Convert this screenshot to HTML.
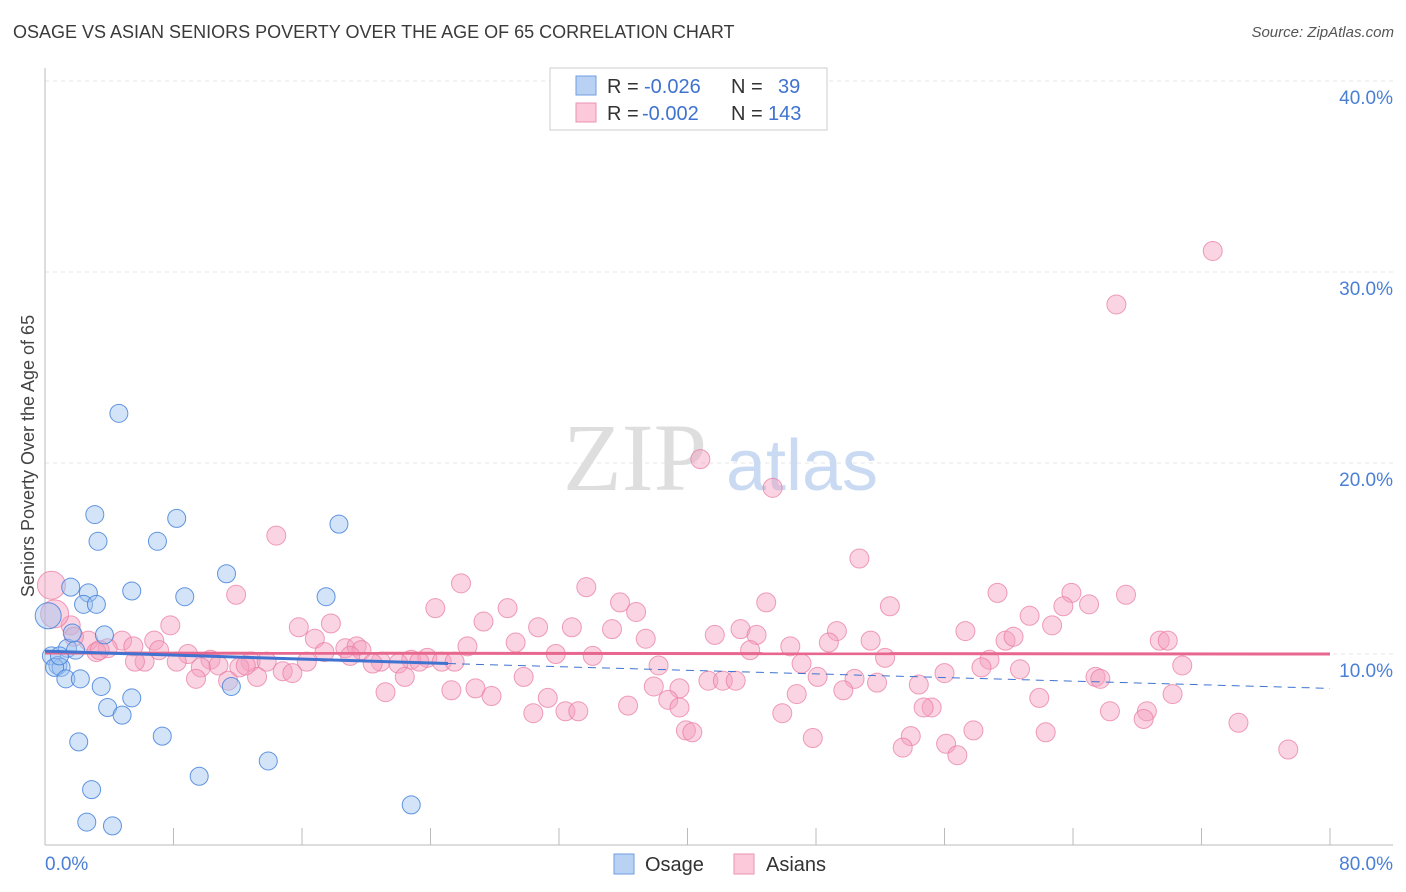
<!DOCTYPE html>
<html><head><meta charset="utf-8"><style>
body{margin:0;background:#fff;font-family:"Liberation Sans",sans-serif;}
#wrap{position:relative;width:1406px;height:892px;overflow:hidden;}
.t{position:absolute;white-space:nowrap;}
</style></head><body>
<div id="wrap">
<div class="t" style="left:13px;top:22px;font-size:18px;color:#3a3a3a;">OSAGE VS ASIAN SENIORS POVERTY OVER THE AGE OF 65 CORRELATION CHART</div>
<div class="t" style="right:12px;top:24px;font-size:15px;color:#555;font-style:italic;">Source: ZipAtlas.com</div>
<svg id="svg" width="1406" height="892" style="position:absolute;left:0;top:0"></svg>
</div>
<script>
const yTicks=[10,20,30,40];
const xTickLabels=["0.0%","80.0%"];
const osageX=[4.6,3.1,8.2,18.3,3.3,7.0,11.3,1.6,2.7,5.4,8.7,17.5,2.4,3.2,0.2,0.4,0.8,1.0,0.6,1.3,2.2,3.5,11.6,5.4,3.9,4.8,2.1,7.3,9.6,13.9,2.9,2.6,4.2,22.8,1.4,1.9,0.9,3.7,1.7];
const osageY=[22.6,17.3,17.1,16.8,15.9,15.9,14.2,13.5,13.2,13.3,13.0,13.0,12.6,12.6,12.0,9.9,9.4,9.3,9.3,8.7,8.7,8.3,8.3,7.7,7.2,6.8,5.4,5.7,3.6,4.4,2.9,1.2,1.0,2.1,10.3,10.2,9.9,11.0,11.1];
const asianX=[72.7,66.7,40.8,45.3,14.4,50.7,25.9,33.7,11.9,59.3,63.9,67.3,44.9,52.6,63.4,65.0,24.3,28.8,35.8,36.8,
27.3,61.3,62.7,15.8,17.8,7.8,30.7,32.8,35.3,57.3,69.4,69.9,41.7,43.3,44.3,49.3,51.4,59.8,60.3,37.4,
26.3,29.3,46.4,48.8,16.8,6.8,4.8,2.7,1.6,0.6,0.4,3.9,1.8,3.2,5.5,7.1,8.9,10.3,12.8,13.8,
18.7,19.4,19.7,17.4,22.8,23.8,24.7,20.9,20.4,22.0,14.8,15.4,16.3,12.1,10.8,9.7,8.2,6.2,5.6,9.4,
13.2,11.4,22.4,23.3,31.8,34.1,38.2,43.9,47.1,48.1,50.4,51.8,52.3,56.0,58.8,58.3,60.7,65.4,65.7,70.8,
29.8,41.3,42.2,43.0,39.5,37.9,21.2,25.3,26.8,27.8,31.3,46.8,49.7,54.4,55.2,54.7,61.9,70.2,36.3,38.8,
39.5,30.4,32.4,33.2,45.9,66.3,68.6,68.4,74.3,39.9,40.3,57.8,62.3,47.8,53.9,53.4,56.1,56.8,77.4,
3.4,12.5,19.0,25.5];
const asianY=[31.1,28.3,20.2,18.7,16.2,15.0,13.7,13.5,13.1,13.2,13.2,13.1,12.7,12.5,12.5,12.6,12.4,12.4,12.7,12.2,
11.7,12.0,11.5,11.4,11.6,11.5,11.4,11.4,11.3,11.2,10.7,10.7,11.0,11.3,11.0,11.2,10.7,10.7,10.9,10.8,
10.4,10.6,10.4,10.6,10.8,10.7,10.7,10.7,11.5,12.1,13.6,10.3,10.9,10.1,10.4,10.2,10.0,9.7,9.6,9.6,
10.3,10.4,10.2,10.1,9.7,9.8,9.6,9.6,9.5,9.5,9.1,9.0,9.6,9.3,9.4,9.3,9.6,9.6,9.6,8.7,
8.8,8.6,8.8,9.6,10.0,9.9,9.4,10.2,9.5,8.8,8.7,8.5,9.8,9.0,9.7,9.3,9.2,8.8,8.7,9.4,
8.8,8.6,8.6,8.6,8.2,8.3,8.0,8.1,8.2,7.8,7.7,7.9,8.1,8.4,7.2,7.2,7.7,7.9,7.3,7.6,
7.2,6.9,7.0,7.0,6.9,7.0,7.0,6.6,6.4,6.0,5.9,6.0,5.9,5.6,5.7,5.1,5.3,4.7,5.0,
10.2,9.4,9.9,9.6];
</script>
<script>
const NS="http://www.w3.org/2000/svg",svg=document.getElementById('svg');
const X0=45,X1=1330,Y0=845,PY=19.1;
function xs(v){return X0+v*(X1-X0)/80;}
function ys(v){return Y0-v*PY;}
function mk(tag,a,p){const e=document.createElementNS(NS,tag);for(const k in a)e.setAttribute(k,a[k]);(p||svg).appendChild(e);return e;}
yTicks.forEach(t=>{const l=mk('line',{x1:X0,x2:1393,y1:ys(t),y2:ys(t),stroke:'#e4e4e4','stroke-dasharray':'4,4'});


const tx=mk('text',{x:1393,y:ys(t)+23,'text-anchor':'end','font-size':19,fill:'#4a7fd6','font-family':'Liberation Sans'});tx.textContent=t.toFixed(1)+'%';

});
mk('line',{x1:X0,x2:X0,y1:68,y2:Y0,stroke:'#bbb'});
mk('line',{x1:X0,x2:1393,y1:Y0,y2:Y0,stroke:'#bbb'});
for(let i=1;i<=10;i++){const x=X0+i*(X1-X0)/10;mk('line',{x1:x,x2:x,y1:828,y2:Y0,stroke:'#bbb'});}
const w1=mk('text',{x:635,y:490,'text-anchor':'middle','font-size':96,fill:'#dedede','font-family':'Liberation Serif'});w1.textContent='ZIP';


const w2=mk('text',{x:802,y:490,'text-anchor':'middle','font-size':72,fill:'#c9daf2','font-family':'Liberation Sans'});w2.textContent='atlas';
asianX.forEach((v,i)=>{const r=(v<1&&asianY[i]>11.5)?14:9.5;const c=mk('circle',{cx:xs(v),cy:ys(asianY[i]),r:r,fill:'rgba(244,160,190,0.45)',stroke:'rgba(232,120,160,0.7)','stroke-width':1});

});
osageX.forEach((v,i)=>{const r=(v<0.5&&osageY[i]>11)?13:9;const c=mk('circle',{cx:xs(v),cy:ys(osageY[i]),r:r,fill:'rgba(160,195,240,0.45)',stroke:'rgba(70,130,220,0.85)','stroke-width':1});

});
mk('line',{x1:X0,x2:X1,y1:ys(10.05),y2:ys(10.0),stroke:'#e8678e','stroke-width':3});
mk('line',{x1:X0,x2:448,y1:ys(10.15),y2:ys(9.5),stroke:'#3f73cf','stroke-width':3});
mk('line',{x1:448,x2:X1,y1:ys(9.5),y2:ys(8.2),stroke:'#3f73cf','stroke-width':1,'stroke-dasharray':'8,6'});
const xl=mk('text',{x:45,y:870,'font-size':19,fill:'#4a7fd6','font-family':'Liberation Sans'});xl.textContent=xTickLabels[0];
const xr=mk('text',{x:1393,y:870,'text-anchor':'end','font-size':19,fill:'#4a7fd6','font-family':'Liberation Sans'});xr.textContent=xTickLabels[1];
const yt=mk('text',{x:34,y:456,'text-anchor':'middle','font-size':18,fill:'#444',transform:'rotate(-90 34 456)','font-family':'Liberation Sans'});yt.textContent='Seniors Poverty Over the Age of 65';


mk('rect',{x:550,y:68,width:277,height:62,fill:'#fff',stroke:'#ccc'});
mk('rect',{x:576,y:76,width:20,height:19,fill:'#b9d2f4',stroke:'#6f9ee0'});
mk('rect',{x:576,y:103,width:20,height:19,fill:'#fbc9da',stroke:'#eb93b4'});
function tx(x,y,s,c){const t=mk('text',{x:x,y:y,'font-size':20,fill:c,'font-family':'Liberation Sans'});t.textContent=s;return t;}
tx(607,93,'R =','#333');tx(644,93,'-0.026','#3f73cf');tx(731,93,'N =','#333');tx(778,93,'39','#3f73cf');
tx(607,120,'R =','#333');tx(642,120,'-0.002','#3f73cf');tx(731,120,'N =','#333');tx(768,120,'143','#3f73cf');
mk('rect',{x:614,y:854,width:20,height:20,fill:'#b9d2f4',stroke:'#6f9ee0'});
const lo=mk('text',{x:645,y:871,'font-size':20,fill:'#333','font-family':'Liberation Sans'});lo.textContent='Osage';


mk('rect',{x:734,y:854,width:20,height:20,fill:'#fbc9da',stroke:'#eb93b4'});
const la=mk('text',{x:766,y:871,'font-size':20,fill:'#333','font-family':'Liberation Sans'});la.textContent='Asians';


</script>
</body></html>
